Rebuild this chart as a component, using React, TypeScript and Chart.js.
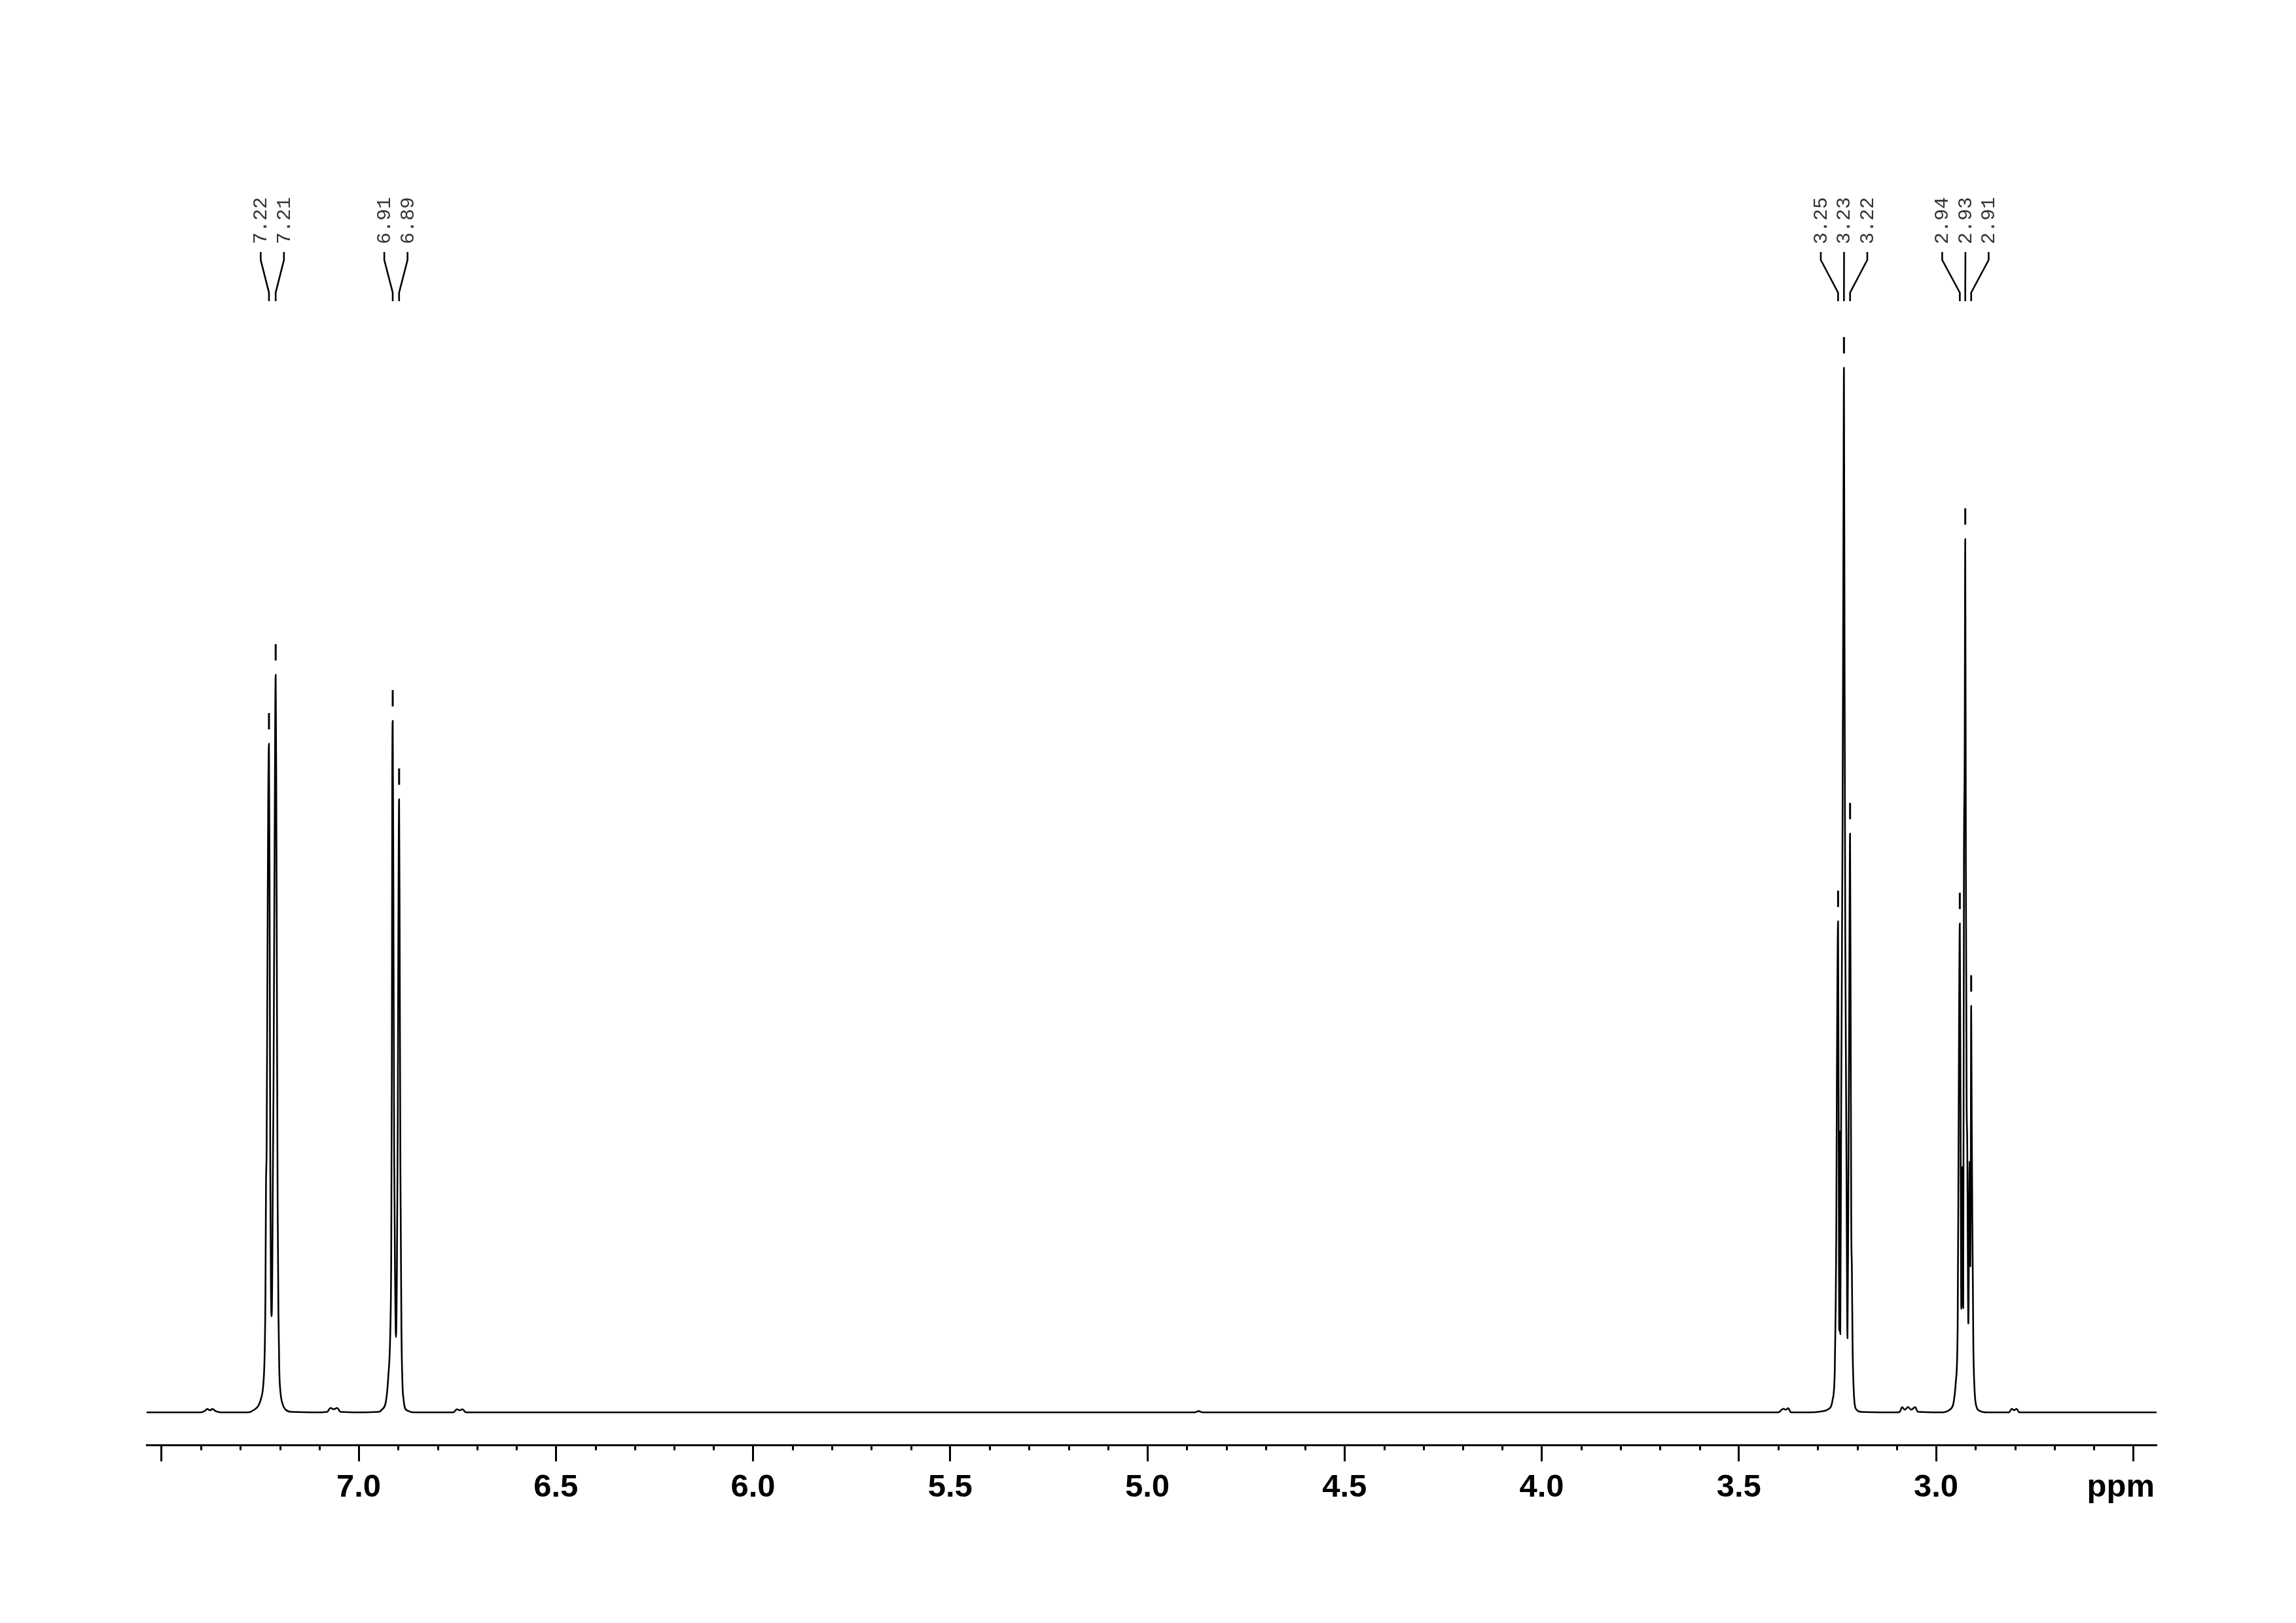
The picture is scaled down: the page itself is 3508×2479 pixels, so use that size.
import React, { useEffect, useRef } from 'react';
import { Chart, registerables } from 'chart.js';

Chart.register(...registerables);

// ---- spectrum trace (chemical shift in ppm, relative intensity) ----
const shiftPpm: number[] = [
  7.54, 7.4, 7.39, 7.384, 7.377, 7.371, 7.362, 7.35,
  7.28, 7.265, 7.255, 7.247, 7.242, 7.2385, 7.2365, 7.235, 7.2335, 7.2315, 7.2295, 7.2275,
  7.2258, 7.224, 7.2225, 7.2207, 7.219, 7.2178, 7.216, 7.2135, 7.2105, 7.209, 7.2072, 7.2055,
  7.2035, 7.2013, 7.1985, 7.193, 7.185, 7.17,
  7.1, 7.08, 7.0714, 7.063, 7.0548, 7.046, 7.0,
  6.95, 6.9414, 6.9303, 6.9248, 6.92, 6.9175, 6.916, 6.9149, 6.9137, 6.912, 6.91, 6.9075,
  6.9054, 6.903, 6.901, 6.899, 6.8975, 6.896, 6.8943, 6.8916, 6.8888, 6.886, 6.8833, 6.875, 6.86,
  6.76, 6.751, 6.744, 6.737, 6.728,
  4.88, 4.87, 4.86,
  3.4, 3.387, 3.381, 3.375, 3.368, 3.32,
  3.29, 3.2733, 3.2623, 3.2568, 3.2545, 3.253, 3.2512, 3.2484, 3.2468, 3.2455, 3.2442, 3.2428,
  3.2405, 3.237, 3.235, 3.2335, 3.232, 3.2302, 3.2274, 3.2246, 3.2224, 3.2205, 3.218, 3.2162,
  3.215, 3.2135, 3.2115, 3.2097, 3.2069, 3.2014, 3.19,
  3.1, 3.092, 3.086, 3.079, 3.071, 3.063, 3.053, 3.046,
  2.99, 2.9635, 2.9552, 2.9497, 2.9452, 2.943, 2.9415, 2.9397, 2.938, 2.9359, 2.9331, 2.931,
  2.9292, 2.9275, 2.9259, 2.9243, 2.9225, 2.9209, 2.9181, 2.9148, 2.9131, 2.912, 2.9109, 2.9095,
  2.9082, 2.9054, 2.9026, 2.8971, 2.89, 2.87,
  2.815, 2.808, 2.802, 2.796, 2.789, 2.44,
];

const intensity: number[] = [
  0, 0, 0.15, 0.32, 0.2, 0.32, 0.1, 0,
  0, 0.25, 0.6, 1.4, 2.6, 5.5, 11, 22, 25, 42, 58, 64.0,
  48, 22, 12, 9.2, 14, 22, 31, 52, 70.6, 60, 38, 20,
  9.5, 4.0, 2.0, 0.8, 0.25, 0.05,
  0, 0.05, 0.42, 0.3, 0.42, 0.05, 0,
  0.05, 0.25, 1.2, 3.5, 7.5, 15, 32, 60, 66.2, 50, 25, 12,
  7.2, 14, 27, 50, 58.7, 45, 24, 8, 2.6, 1.2, 0.5, 0.15, 0,
  0, 0.3, 0.2, 0.3, 0,
  0, 0.12, 0,
  0, 0.35, 0.25, 0.4, 0, 0,
  0.1, 0.3, 1.2, 4.0, 10, 17, 34, 47.0, 26, 7.8, 26.9, 7.5,
  30, 56.8, 82, 100, 72, 45.9, 26.2, 7.1, 20.7, 36, 55.4, 34,
  18, 14, 6, 3.1, 1.0, 0.25, 0.05,
  0, 0.05, 0.5, 0.25, 0.5, 0.25, 0.5, 0.05,
  0, 0.3, 1.0, 3.0, 8, 25, 38, 46.8, 30, 9.9, 23.5, 10,
  52.7, 62, 83.6, 52, 30, 25.9, 8.5, 24, 14, 22, 38.9, 28,
  20, 6.5, 2.4, 0.5, 0.15, 0,
  0, 0.35, 0.2, 0.35, 0, 0,
];

// ---- picked peaks ----
const peakLabels: string[] = ['7.22', '7.21', '6.91', '6.89', '3.25', '3.23', '3.22', '2.94', '2.93', '2.91'];
const peakShifts: number[] = [7.2275, 7.2105, 6.9137, 6.8975, 3.2484, 3.2335, 3.218, 2.9397, 2.9259, 2.9109];
const peakHeights: number[] = [64.0, 70.6, 66.2, 58.7, 47.0, 100, 55.4, 46.8, 83.6, 38.9];
const peakGroups: number[] = [0, 0, 1, 1, 2, 2, 2, 3, 3, 3];

// ---- axis ----
const axisUnit = 'ppm';
const unlabelledTicks: number[] = [7.5, 2.5];
const xRange = { min: 2.4407, max: 7.5378 };
const yRange = { min: -3.13, max: 127 };
const majorStep = 0.5;
const minorStep = 0.1;

const TICK_LEN = 25;
const TICK_PAD = 11;
const LABEL_FONT = 49;

export default function App() {
  const ref = useRef<HTMLCanvasElement>(null);

  useEffect(() => {
    const canvas = ref.current;
    if (!canvas) return;

    const annotate = {
      id: 'nmrAnnotate',
      afterDraw(chart: any) {
        const ctx = chart.ctx as CanvasRenderingContext2D;
        const xs = chart.scales.x;
        const ys = chart.scales.y;
        ctx.save();

        // minor ticks
        ctx.strokeStyle = '#000';
        ctx.lineWidth = 3;
        const axisY = xs.top;
        const n = Math.round((xRange.max - xRange.min) / minorStep) + 2;
        const start = Math.ceil(xRange.min / minorStep) * minorStep;
        for (let i = 0; i < n; i++) {
          const v = Math.round((start + i * minorStep) * 10) / 10;
          if (v > xRange.max) break;
          if (Math.abs(v / majorStep - Math.round(v / majorStep)) < 1e-6) continue;
          const px = Math.round(xs.getPixelForValue(v)) + 0.5;
          ctx.beginPath();
          ctx.moveTo(px, axisY);
          ctx.lineTo(px, axisY + 8);
          ctx.stroke();
        }

        // unit label
        ctx.fillStyle = '#000';
        ctx.font = `bold ${LABEL_FONT}px "Liberation Sans", Arial, sans-serif`;
        ctx.textAlign = 'right';
        ctx.textBaseline = 'middle';
        ctx.fillText(axisUnit, xs.right - 3, axisY + TICK_LEN + TICK_PAD + (LABEL_FONT * 1.2) / 2);

        // peak markers
        ctx.lineWidth = 3;
        peakShifts.forEach((s, i) => {
          const px = xs.getPixelForValue(s);
          const py = ys.getPixelForValue(peakHeights[i]);
          ctx.beginPath();
          ctx.moveTo(px, py - 22);
          ctx.lineTo(px, py - 47);
          ctx.stroke();
        });

        // peak labels with connectors
        const groups = Array.from(new Set(peakGroups));
        const spacing = 35.5;
        groups.forEach((g) => {
          const idx = peakGroups.map((gg, i) => (gg === g ? i : -1)).filter((i) => i >= 0);
          const pxs = idx.map((i) => xs.getPixelForValue(peakShifts[i]));
          const center = pxs.reduce((a, b) => a + b, 0) / pxs.length;
          idx.forEach((pi, k) => {
            const lx = center + (k - (idx.length - 1) / 2) * spacing;
            const px = pxs[k];
            ctx.strokeStyle = '#000';
            ctx.lineWidth = 2.6;
            ctx.beginPath();
            ctx.moveTo(lx, 385);
            ctx.lineTo(lx, 397);
            ctx.lineTo(px, 447);
            ctx.lineTo(px, 460);
            ctx.stroke();

            ctx.save();
            ctx.translate(lx, 373);
            ctx.rotate(-Math.PI / 2);
            ctx.fillStyle = '#333';
            ctx.font = '30px "Liberation Mono", "DejaVu Sans Mono", monospace';
            ctx.textAlign = 'left';
            ctx.textBaseline = 'middle';
            ctx.fillText(peakLabels[pi], 0, 1);
            ctx.restore();
          });
        });

        ctx.restore();
      },
    };

    const chart = new Chart(canvas, {
      type: 'line',
      data: {
        datasets: [
          {
            data: shiftPpm.map((x, i) => ({ x, y: intensity[i] })),
            borderColor: '#000',
            borderWidth: 2.6,
            pointRadius: 0,
            fill: false,
            cubicInterpolationMode: 'monotone',
          },
        ],
      },
      options: {
        responsive: false,
        animation: false,
        devicePixelRatio: 1,
        layout: { padding: { left: 224, right: 213, top: 131, bottom: 166 } },
        plugins: { legend: { display: false }, tooltip: { enabled: false } },
        scales: {
          x: {
            type: 'linear',
            reverse: true,
            min: xRange.min,
            max: xRange.max,
            ticks: {
              stepSize: majorStep,
              autoSkip: false,
              includeBounds: false,
              maxRotation: 0,
              minRotation: 0,
              padding: TICK_PAD,
              color: '#000',
              font: { family: '"Liberation Sans", Arial, sans-serif', size: LABEL_FONT, weight: 'bold' },
              callback: (v: any) => {
                const n = Number(v);
                if (unlabelledTicks.some((u) => Math.abs(u - n) < 1e-6)) return '';
                return n.toFixed(1);
              },
            },
            grid: {
              drawOnChartArea: false,
              drawTicks: true,
              tickLength: TICK_LEN,
              tickWidth: 3,
              tickColor: '#000',
            },
            border: { display: true, color: '#000', width: 3 },
          },
          y: { display: false, min: yRange.min, max: yRange.max },
        },
      },
      plugins: [annotate],
    } as any);

    return () => chart.destroy();
  }, []);

  return (
    <div style={{ position: 'absolute', left: 0, top: 0, width: 3508, height: 2479, background: '#fff' }}>
      <canvas ref={ref} width={3508} height={2479} style={{ display: 'block' }} />
    </div>
  );
}
